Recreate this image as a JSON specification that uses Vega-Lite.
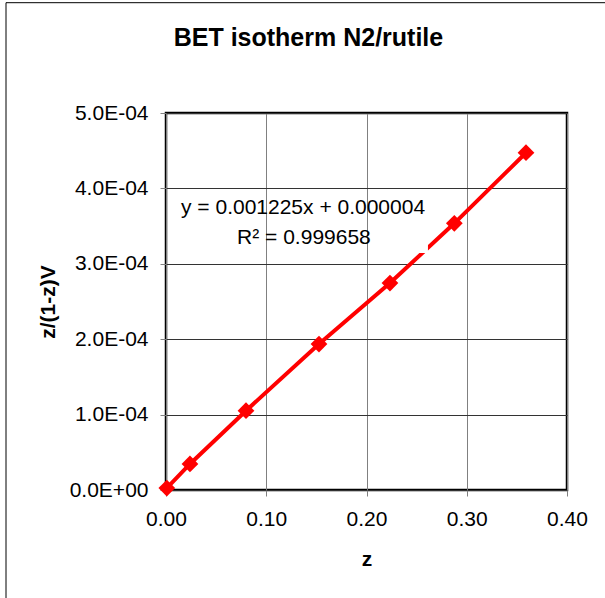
{
  "$schema": "https://vega.github.io/schema/vega-lite/v6.json",
  "width": 401,
  "height": 377,
  "autosize": {"type": "none"},
  "padding": {"left": 166, "top": 113, "right": 38, "bottom": 108},
  "background": "white",
  "config": {
    "font": "Liberation Sans",
    "view": {"stroke": "black", "strokeWidth": 2.5}
  },
  "data": {
    "values": [
      {"z": 0.0008, "v": 0.0000025},
      {"z": 0.0239, "v": 0.0000345},
      {"z": 0.0798, "v": 0.0001052},
      {"z": 0.1526, "v": 0.0001936},
      {"z": 0.2234, "v": 0.0002745},
      {"z": 0.2876, "v": 0.0003537},
      {"z": 0.3591, "v": 0.0004473}
    ]
  },
  "layer": [
    {
      "mark": {"type": "line", "color": "red", "strokeWidth": 4},
      "encoding": {
        "x": {
          "field": "z",
          "type": "quantitative",
          "scale": {"domain": [0, 0.4], "nice": false, "zero": false},
          "axis": {
            "title": "z",
            "titleFont": "Liberation Sans",
            "titleFontSize": 21,
            "titleFontWeight": "bold",
            "titleColor": "black",
            "titleX": 200.5,
            "titleY": 69,
            "titleAlign": "center",
            "titleBaseline": "middle",
            "values": [0, 0.1, 0.2, 0.3, 0.4],
            "format": ".2f",
            "labelFont": "Liberation Sans",
            "labelFontSize": 21,
            "labelColor": "black",
            "labelPadding": 12,
            "labelFlush": false,
            "labelOverlap": false,
            "tickSize": 6,
            "tickColor": "#808080",
            "tickWidth": 1,
            "domain": false,
            "grid": true,
            "gridColor": "#808080",
            "gridWidth": 1,
            "gridOpacity": 1
          }
        },
        "y": {
          "field": "v",
          "type": "quantitative",
          "scale": {"domain": [0, 0.0005], "nice": false},
          "axis": {
            "title": "z/(1-z)V",
            "titleFont": "Liberation Sans",
            "titleFontSize": 21,
            "titleFontWeight": "bold",
            "titleColor": "black",
            "titleX": -118,
            "titleY": 188.5,
            "titleAngle": -90,
            "titleAlign": "center",
            "titleBaseline": "middle",
            "values": [0, 0.0001, 0.0002, 0.0003, 0.0004, 0.0005],
            "labelExpr": "datum.value == 0 ? '0.0E+00' : replace(format(datum.value, '.1e'), 'e-', 'E-0')",
            "labelFont": "Liberation Sans",
            "labelFontSize": 21,
            "labelColor": "black",
            "labelPadding": 12,
            "labelFlush": false,
            "labelOverlap": false,
            "tickSize": 6,
            "tickColor": "#808080",
            "tickWidth": 1,
            "domain": false,
            "grid": true,
            "gridColor": "#333333",
            "gridWidth": 1,
            "gridOpacity": 1
          }
        }
      }
    },
    {
      "data": {"values": [{}]},
      "mark": {"type": "rect", "fill": "white", "stroke": null},
      "encoding": {
        "x": {"datum": 0.25, "type": "quantitative"},
        "x2": {"datum": 0.2613},
        "y": {"datum": 0.0003143, "type": "quantitative"},
        "y2": {"datum": 0.00036}
      }
    },
    {
      "mark": {"type": "point", "shape": "diamond", "filled": true, "color": "red", "size": 280, "opacity": 1},
      "encoding": {
        "x": {"field": "z", "type": "quantitative"},
        "y": {"field": "v", "type": "quantitative"}
      }
    },
    {
      "data": {"values": [{}]},
      "mark": {"type": "text", "font": "Liberation Sans", "fontSize": 21, "fontWeight": "normal", "color": "black", "align": "center", "baseline": "middle"},
      "encoding": {
        "x": {"datum": 0.1367, "type": "quantitative"},
        "y": {"datum": 0.000374, "type": "quantitative"},
        "text": {"value": "y = 0.001225x + 0.000004"}
      }
    },
    {
      "data": {"values": [{}]},
      "mark": {"type": "text", "font": "Liberation Sans", "fontSize": 21, "fontWeight": "normal", "color": "black", "align": "center", "baseline": "middle"},
      "encoding": {
        "x": {"datum": 0.1376, "type": "quantitative"},
        "y": {"datum": 0.0003342, "type": "quantitative"},
        "text": {"value": "R² = 0.999658"}
      }
    },
    {
      "data": {"values": [{}]},
      "mark": {"type": "text", "font": "Liberation Sans", "fontSize": 25, "fontWeight": "bold", "color": "black", "align": "center", "baseline": "alphabetic"},
      "encoding": {
        "x": {"datum": 0.1421, "type": "quantitative"},
        "y": {"datum": 0.0005889, "type": "quantitative"},
        "text": {"value": "BET isotherm N2/rutile"}
      }
    },
    {
      "data": {"values": [{}]},
      "mark": {"type": "rect", "fill": null, "stroke": "black", "strokeWidth": 1},
      "encoding": {
        "x": {"datum": -0.1596, "type": "quantitative"},
        "x2": {"datum": 0.46},
        "y": {"datum": 0.0006463, "type": "quantitative"},
        "y2": {"datum": -0.00017}
      }
    }
  ]
}
